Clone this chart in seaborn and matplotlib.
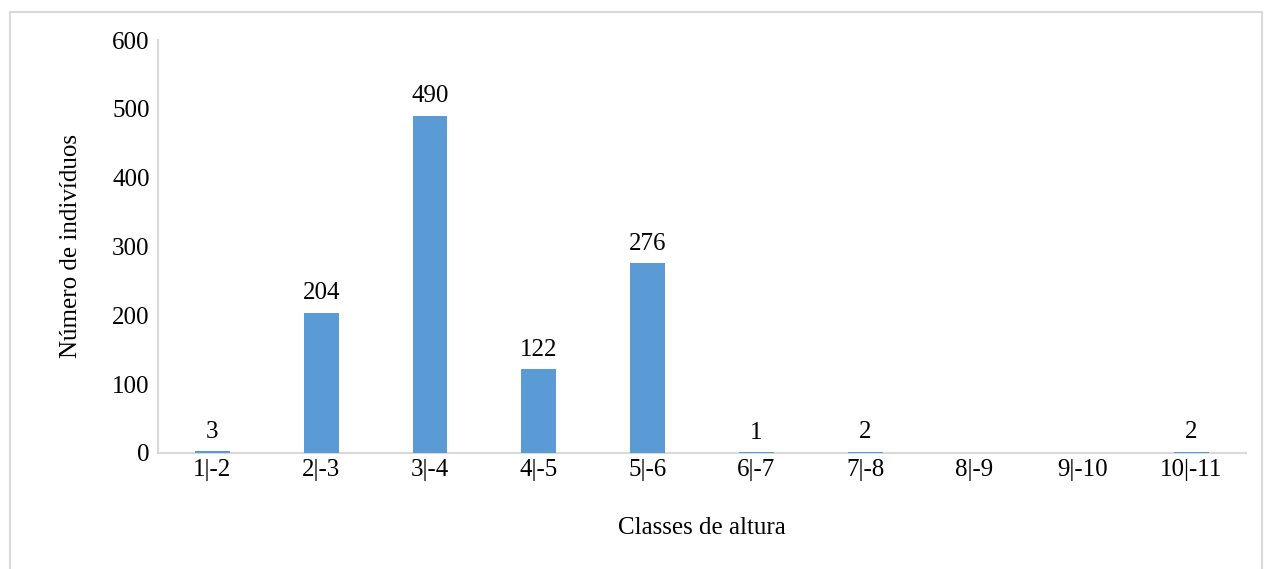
import matplotlib
matplotlib.use("Agg")
import matplotlib.pyplot as plt
import seaborn as sns
import pandas as pd
from matplotlib.patches import Rectangle

classes = ["1|-2", "2|-3", "3|-4", "4|-5", "5|-6", "6|-7", "7|-8", "8|-9", "9|-10", "10|-11"]
counts = [3, 204, 490, 122, 276, 1, 2, 0, 0, 2]
shown_labels = [True, True, True, True, True, True, True, False, False, True]

sns.set_theme(style="white")
plt.rcParams["font.family"] = ["Liberation Serif", "DejaVu Serif"]

df = pd.DataFrame({"classe": classes, "n": counts})

fig = plt.figure(figsize=(12.67, 5.69), dpi=100)
ax = fig.add_axes([0.1247, 0.2039, 0.9833 - 0.1247, 0.9297 - 0.2039])

sns.barplot(data=df, x="classe", y="n", color="#5B9BD5", saturation=1,
            width=0.32, linewidth=0, ax=ax, zorder=3)
for bar in ax.patches:
    bar.set_clip_on(False)

for i, (v, show) in enumerate(zip(counts, shown_labels)):
    if show:
        ax.text(i, v + 12, str(v), ha="center", va="bottom", fontsize=18, color="#000000")

ax.set_ylim(0, 600)
ax.set_yticks(range(0, 601, 100))
ax.set_xlim(-0.5, len(classes) - 0.5)
ax.tick_params(axis="both", length=0, labelsize=18, colors="#000000")
ax.tick_params(axis="x", pad=4)
ax.tick_params(axis="y", pad=6)

for side in ["top", "right"]:
    ax.spines[side].set_visible(False)
for side in ["left", "bottom"]:
    ax.spines[side].set_color("#D9D9D9")
    ax.spines[side].set_linewidth(1.5)
    ax.spines[side].set_zorder(1)

ax.set_xlabel("Classes de altura", fontsize=18, labelpad=26, color="#000000")
ax.set_ylabel("Número de indivíduos", fontsize=18, labelpad=22, color="#000000")

fig.patches.append(Rectangle((10 / 1267, -0.01), (1262 - 10) / 1267, 1 - 12 / 569 + 0.01,
                             transform=fig.transFigure, fill=False,
                             edgecolor="#D9D9D9", linewidth=1.5))

fig.savefig("out.png", dpi=100)
